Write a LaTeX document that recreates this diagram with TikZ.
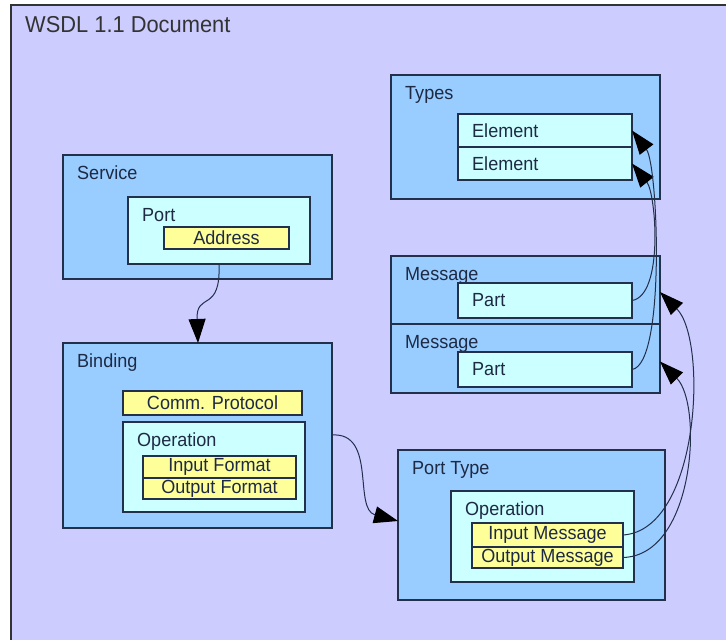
\documentclass[tikz,border=0pt]{standalone}
\usepackage{fontspec}
\setmainfont{Liberation Sans}[FakeStretch=0.95]
\usetikzlibrary{arrows.meta}
\definecolor{bg}{HTML}{CCCCFF}
\definecolor{bluefill}{HTML}{99CCFF}
\definecolor{cyanfill}{HTML}{CCFFFF}
\definecolor{yellowfill}{HTML}{FFFF99}
\definecolor{edge}{HTML}{22304C}
\definecolor{txt}{HTML}{1E2A44}
\tikzset{
  box/.style={draw=edge, line width=1.3pt, anchor=north west, inner sep=0pt, outer sep=0pt, text=txt, font=\fontsize{19}{19}\selectfont},
  bluebox/.style={box, fill=bluefill},
  cyanbox/.style={box, fill=cyanfill},
  yellowbox/.style={box, fill=yellowfill},
  lbl/.style={anchor=base west, inner sep=0pt, text=txt, font=\fontsize{19}{19}\selectfont},
  conn/.style={draw=edge, line width=1pt, -{Triangle[length=24pt,width=17pt,fill=black,color=black]}},
}
\begin{document}
\begin{tikzpicture}[x=1pt,y=-1pt]
\useasboundingbox (0,0) rectangle (726,640);
\fill[white] (0,0) rectangle (726,640);
\draw[fill=bg, draw=black!80, line width=1.5pt] (11,5) rectangle (760,680);
\node[lbl, font=\fontsize{23}{23}\selectfont, text=black!80] (title) at (25,32) {WSDL 1.1 Document};

% Service
\node[bluebox, minimum width=269pt, minimum height=124pt] (service) at (63,155) {};
\node[lbl] (servicel) at (77,179) {Service};
\node[cyanbox, minimum width=182pt, minimum height=67pt] (port) at (128,197) {};
\node[lbl] (portl) at (142,221) {Port};
\node[yellowbox, minimum width=125pt, minimum height=22pt] (address) at (164,227) {Address};

% Binding
\node[bluebox, minimum width=269pt, minimum height=185pt] (binding) at (63,343) {};
\node[lbl] (bindingl) at (77,367) {Binding};
\node[yellowbox, minimum width=179pt, minimum height=24pt] (comm) at (123,391) {Comm. Protocol};
\node[cyanbox, minimum width=182pt, minimum height=90pt] (opb) at (123,422) {};
\node[lbl] (opbl) at (137,446) {Operation};
\node[yellowbox, minimum width=153pt, minimum height=22pt] (infmt) at (143,456) {Input Format};
\node[yellowbox, minimum width=153pt, minimum height=21pt] (outfmt) at (143,478) {Output Format};

% Types
\node[bluebox, minimum width=269pt, minimum height=124pt] (types) at (391,75) {};
\node[lbl] (typesl) at (405,99) {Types};
\node[cyanbox, minimum width=174pt, minimum height=33pt] (el1) at (458,114) {};
\node[lbl, anchor=west] (el1l) at (472,130.5) {Element};
\node[cyanbox, minimum width=174pt, minimum height=33pt] (el2) at (458,147) {};
\node[lbl, anchor=west] (el2l) at (472,163.5) {Element};

% Messages
\node[bluebox, minimum width=269pt, minimum height=68pt] (msg1) at (391,256) {};
\node[lbl] (msg1l) at (405,280) {Message};
\node[cyanbox, minimum width=174pt, minimum height=35pt] (part1) at (458,283) {};
\node[lbl, anchor=west] (part1l) at (472,300.5) {Part};
\node[bluebox, minimum width=269pt, minimum height=69pt] (msg2) at (391,324) {};
\node[lbl] (msg2l) at (405,348) {Message};
\node[cyanbox, minimum width=174pt, minimum height=35pt] (part2) at (458,352) {};
\node[lbl, anchor=west] (part2l) at (472,369.5) {Part};

% Port Type
\node[bluebox, minimum width=267pt, minimum height=150pt] (porttype) at (398,450) {};
\node[lbl] (porttypel) at (412,474) {Port Type};
\node[cyanbox, minimum width=183pt, minimum height=91pt] (opp) at (451,491) {};
\node[lbl] (oppl) at (465,515) {Operation};
\node[yellowbox, minimum width=151pt, minimum height=24pt] (inmsg) at (472,523) {Input Message};
\node[yellowbox, minimum width=151pt, minimum height=21pt] (outmsg) at (472,547) {Output Message};

% connectors
\draw[conn] (port.south) .. controls +(2,50) and +(-2,-52) .. (binding.north -| 198,0);
\draw[conn] (binding.east |- 0,435) .. controls +(45,-3) and +(-45,-12) .. (porttype.west |- 0,521);
\draw[conn] (part1.east) .. controls +(32,-5) and +(24,30) .. (el2.east);
\draw[conn] (part2.east) .. controls +(34,-5) and +(26,34) .. (el1.east);
\draw[conn] (inmsg.east) .. controls +(77,-5) and +(48,48) .. ([yshift=-2pt]msg1.east);
\draw[conn] (outmsg.east) .. controls +(72,-2) and +(43,43) .. ([yshift=-3pt]msg2.east);
\end{tikzpicture}
\end{document}
